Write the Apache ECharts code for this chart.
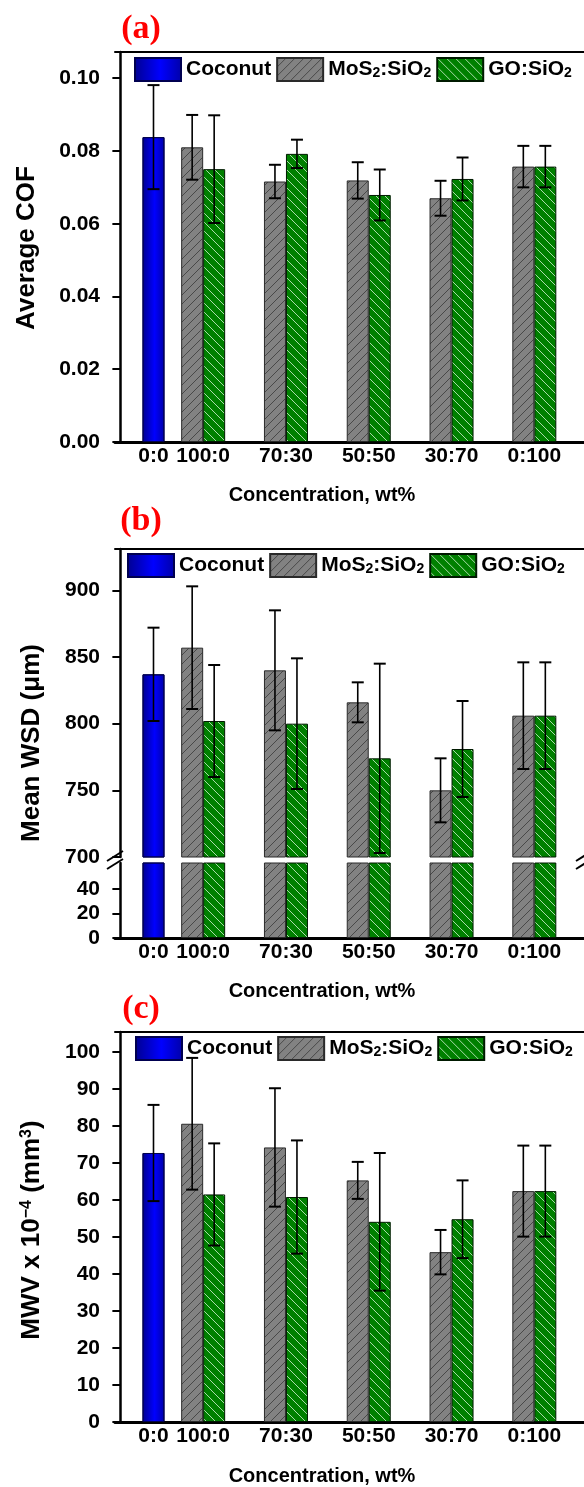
<!DOCTYPE html>
<html><head><meta charset="utf-8">
<script src="https://cdn.jsdelivr.net/npm/echarts@6/dist/echarts.min.js"></script>
<style>html,body{margin:0;padding:0;background:#fff}#c{width:584px;height:1487px}</style>
</head><body><div id="c"></div>
<script>
// ---------- data ----------
const categories = ['0:0', '100:0', '70:30', '50:50', '30:70', '0:100'];
const catPos = [0.4, 1, 2, 3, 4, 5];
const seriesNames = ['Coconut', 'MoS2:SiO2', 'GO:SiO2'];

// (a) Average COF
const cofCoconut = [0.0838];
const cofCoconutErr = [0.0143];
const cofMoS2 = [0.0810, 0.0716, 0.0719, 0.0670, 0.0757];
const cofMoS2Err = [0.0089, 0.0046, 0.0050, 0.0048, 0.0057];
const cofGO = [0.0750, 0.0792, 0.0679, 0.0723, 0.0757];
const cofGOErr = [0.0148, 0.0039, 0.0070, 0.0059, 0.0057];
const yTicksA = [0, 0.02, 0.04, 0.06, 0.08, 0.10];

// (b) Mean WSD (um)
const wsdCoconut = [837];
const wsdCoconutErr = [35];
const wsdMoS2 = [857, 840, 816, 750, 806];
const wsdMoS2Err = [46, 45, 15, 24, 40];
const wsdGO = [802, 800, 774, 781, 806];
const wsdGOErr = [42, 49, 71, 36, 40];
const yTicksBUpper = [700, 750, 800, 850, 900];
const yTicksBLower = [0, 20, 40];

// (c) MWV x 10^-4 (mm3)
const mwvCoconut = [72.7];
const mwvCoconutErr = [13];
const mwvMoS2 = [80.6, 74.2, 65.3, 45.9, 62.4];
const mwvMoS2Err = [17.8, 16, 5, 6, 12.3];
const mwvGO = [61.5, 60.8, 54.1, 54.8, 62.4];
const mwvGOErr = [13.8, 15.3, 18.6, 10.5, 12.3];
const yTicksC = [0, 10, 20, 30, 40, 50, 60, 70, 80, 90, 100];

// ---------- styles ----------
const FONT = "'Liberation Sans', Arial, Helvetica, sans-serif";
const SERIF = "'Liberation Serif', 'Times New Roman', serif";
const X_MIN = -0.065, X_MAX = 5.6;
const BAR_W = 22;

function hatch(bg, fg, dir, lw) {
  const s = 9;
  const c = document.createElement('canvas');
  c.width = s; c.height = s;
  const g = c.getContext('2d');
  g.fillStyle = bg; g.fillRect(0, 0, s, s);
  g.strokeStyle = fg; g.lineWidth = lw;
  g.beginPath();
  for (let k = -1; k <= 1; k++) {
    if (dir > 0) { g.moveTo(k * s, s); g.lineTo(k * s + s, 0); }
    else { g.moveTo(k * s, 0); g.lineTo(k * s + s, s); }
  }
  g.stroke();
  return { image: c, repeat: 'repeat' };
}
const grayFill = hatch('#828282', '#3a3a3a', 1, 0.8);
const greenFill = hatch('#008000', 'rgba(235,255,235,0.9)', -1, 0.8);
const blueFill = { type: 'linear', x: 0, y: 0, x2: 1, y2: 0, colorStops: [
  { offset: 0, color: '#000090' }, { offset: 0.55, color: '#0000ff' }, { offset: 1, color: '#0000a8' }] };

const styles = [
  { color: blueFill, borderColor: '#000050', borderWidth: 1 },
  { color: grayFill, borderColor: '#2a2a2a', borderWidth: 1 },
  { color: greenFill, borderColor: '#001a00', borderWidth: 1 }
];

// ---------- layout ----------
const grids = [
  { left: 115, top: 52, width: 473, height: 390 },   // a
  { left: 115, top: 549, width: 473, height: 308 },  // b upper
  { left: 115, top: 863, width: 473, height: 75 },   // b lower
  { left: 115, top: 1032, width: 473, height: 390 }  // c
];

function xMain(gi, showLabels) {
  return {
    type: 'value', gridIndex: gi, min: X_MIN, max: X_MAX, position: 'bottom',
    splitLine: { show: false }, axisTick: { show: false },
    axisLine: { show: !!showLabels, lineStyle: { color: '#000', width: 3 } },
    axisLabel: {
      show: !!showLabels, customValues: catPos, margin: 4,
      formatter: v => { const i = catPos.findIndex(p => Math.abs(p - v) < 1e-6); return i >= 0 ? categories[i] : ''; },
      color: '#000', fontSize: 21, fontWeight: 'bold', fontFamily: FONT
    }
  };
}
function xTop(gi, showLine) {
  return {
    type: 'value', gridIndex: gi, min: X_MIN, max: X_MAX, position: 'top',
    splitLine: { show: false }, axisTick: { show: false }, axisLabel: { show: false },
    axisLine: { show: showLine, lineStyle: { color: '#000', width: 2 } }
  };
}
function yAx(gi, min, max, ticks, dec) {
  return {
    type: 'value', gridIndex: gi, min: min, max: max,
    splitLine: { show: false },
    axisLine: { show: true, lineStyle: { color: '#000', width: 2.5 } },
    axisTick: { show: true, inside: false, length: 8, customValues: ticks, lineStyle: { color: '#000', width: 2 } },
    axisLabel: { customValues: ticks, margin: 15, color: '#000', fontSize: 21, fontWeight: 'bold', fontFamily: FONT,
      formatter: v => dec ? v.toFixed(dec) : String(Math.round(v)) }
  };
}

const xAxes = [
  xMain(0, true), xTop(0, true),
  xMain(1, false), xTop(1, true),
  xMain(2, true), xTop(2, false),
  xMain(3, true), xTop(3, true)
];
const yAxes = [
  yAx(0, 0, 0.1072, yTicksA, 2),
  yAx(1, 700, 931, yTicksBUpper, 0),
  yAx(2, 0, 61.2, yTicksBLower, 0),
  yAx(3, 0, 105.4, yTicksC, 0)
];

function barSeries(si, xi, yi, pos, vals) {
  return {
    type: 'bar', name: seriesNames[si], xAxisIndex: xi, yAxisIndex: yi,
    barWidth: BAR_W, barGap: '0%', clip: true,
    itemStyle: styles[si],
    data: pos.map((p, i) => [p, vals[i]])
  };
}
function errSeries(xi, yi, pos, vals, errs, offset) {
  return {
    type: 'custom', xAxisIndex: xi, yAxisIndex: yi, z: 10, silent: true, clip: false,
    encode: { x: 0, y: 1 },
    data: pos.map((p, i) => [p, vals[i], errs[i]]),
    renderItem: (params, api) => {
      const x = api.value(0), v = api.value(1), e = api.value(2);
      const t = api.coord([x, v + e]);
      const b = api.coord([x, v - e]);
      const cx = t[0] + offset, w = 6;
      return { type: 'group', children: [
        { type: 'line', shape: { x1: cx, y1: t[1], x2: cx, y2: b[1] }, style: { stroke: '#000', lineWidth: 1.6 } },
        { type: 'line', shape: { x1: cx - w, y1: t[1], x2: cx + w, y2: t[1] }, style: { stroke: '#000', lineWidth: 2 } },
        { type: 'line', shape: { x1: cx - w, y1: b[1], x2: cx + w, y2: b[1] }, style: { stroke: '#000', lineWidth: 2 } }
      ] };
    }
  };
}

const posCoco = catPos.slice(0, 1);
const posMix = catPos.slice(1);

function panelSeries(xm, xc, yi, coco, mos, go, withErr, cocoE, mosE, goE) {
  const s = [
    barSeries(0, xc, yi, posCoco, coco),
    barSeries(1, xm, yi, posMix, mos),
    barSeries(2, xm, yi, posMix, go)
  ];
  if (withErr) {
    s.push(errSeries(xm, yi, posCoco, coco, cocoE, 0));
    s.push(errSeries(xm, yi, posMix, mos, mosE, -BAR_W / 2));
    s.push(errSeries(xm, yi, posMix, go, goE, BAR_W / 2));
  }
  return s;
}

const series = [].concat(
  panelSeries(0, 1, 0, cofCoconut, cofMoS2, cofGO, true, cofCoconutErr, cofMoS2Err, cofGOErr),
  panelSeries(2, 3, 1, wsdCoconut, wsdMoS2, wsdGO, true, wsdCoconutErr, wsdMoS2Err, wsdGOErr),
  panelSeries(4, 5, 2, wsdCoconut, wsdMoS2, wsdGO, false),
  panelSeries(6, 7, 3, mwvCoconut, mwvMoS2, mwvGO, true, mwvCoconutErr, mwvMoS2Err, mwvGOErr)
);

function legend(left, top) {
  return {
    left: left, top: top, orient: 'horizontal', icon: 'rect', itemWidth: 46, itemHeight: 23, itemGap: 5,
    selectedMode: false, padding: 0,
    data: seriesNames,
    formatter: n => n.replace(/2/g, '{sub|2}'),
    textStyle: { color: '#000', fontSize: 21, fontWeight: 'bold', fontFamily: FONT, lineHeight: 22,
      rich: { sub: { fontSize: 14, fontWeight: 'bold', fontFamily: FONT, color: '#000', verticalAlign: 'bottom', padding: [10, 0, 0, 0] } } }
  };
}

const chart = echarts.init(document.getElementById('c'), null, { renderer: 'canvas' });
chart.setOption({
  animation: false,
  backgroundColor: '#fff',
  grid: grids,
  xAxis: xAxes,
  yAxis: yAxes,
  legend: [legend(134, 57), legend(127, 553), legend(135, 1036)],
  series: series
});

// ---------- text + break marks ----------
const y700 = chart.convertToPixel({ yAxisIndex: 1 }, 700);
const yLowTop = chart.convertToPixel({ yAxisIndex: 2 }, 61.2);
const xLeft = chart.convertToPixel({ xAxisIndex: 2 }, X_MIN);
const xRight = chart.convertToPixel({ xAxisIndex: 2 }, X_MAX);
const midBreak = (y700 + yLowTop) / 2;

function label(txt, x, y, size, color, family, rot, rich) {
  return { type: 'text', x: x, y: y, rotation: rot || 0, silent: true,
    style: { text: txt, align: 'center', verticalAlign: 'middle', fill: color,
      fontSize: size, fontWeight: 'bold', fontFamily: family, rich: rich || {} } };
}
function breakMark(x) {
  const st = { stroke: '#000', lineWidth: 2 };
  return [
    { type: 'line', silent: true, shape: { x1: x - 8, y1: midBreak + 1, x2: x + 8, y2: midBreak - 9 }, style: st },
    { type: 'line', silent: true, shape: { x1: x - 8, y1: midBreak + 9, x2: x + 8, y2: midBreak - 1 }, style: st }
  ];
}
const supRich = { sup: { fontSize: 16, fontWeight: 'bold', fontFamily: FONT, fill: '#000', verticalAlign: 'top' } };

chart.setOption({
  graphic: [
    label('(a)', 141, 29, 34, '#ff0000', SERIF),
    label('(b)', 141, 521, 34, '#ff0000', SERIF),
    label('(c)', 141, 1009, 34, '#ff0000', SERIF),
    label('Concentration, wt%', 322, 495, 20, '#000', FONT),
    label('Concentration, wt%', 322, 991, 20, '#000', FONT),
    label('Concentration, wt%', 322, 1476, 20, '#000', FONT),
    label('Average COF', 27, 248, 26, '#000', FONT, Math.PI / 2),
    label('Mean WSD (\u03bcm)', 32, 743, 26, '#000', FONT, Math.PI / 2),
    label('MWV x 10{sup|\u22124} (mm{sup|3})', 32, 1230, 26, '#000', FONT, Math.PI / 2, supRich)
  ].concat(breakMark(xLeft), breakMark(xRight))
});
</script></body></html>
